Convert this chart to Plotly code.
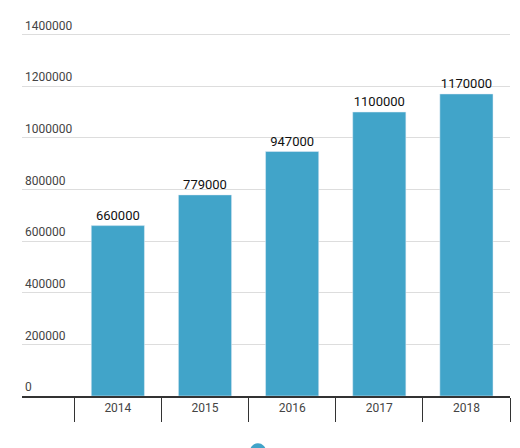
import plotly.graph_objects as go

years = ["2014", "2015", "2016", "2017", "2018"]
values = [660000, 779000, 947000, 1100000, 1170000]
y_ticks = [0, 200000, 400000, 600000, 800000, 1000000, 1200000, 1400000]

fig = go.Figure()
fig.add_trace(go.Bar(
    x=years,
    y=values,
    marker=dict(color="#41a4c9"),
    text=[str(v) for v in values],
    textposition="outside",
    textfont=dict(family="Roboto", size=13, color="#111"),
    cliponaxis=False,
    showlegend=False,
))

# page body has an 8px margin, so the figure is trimmed to fit the window
fig.update_layout(
    width=512, height=440,
    margin=dict(l=14, r=10, t=24, b=52, autoexpand=False),
    paper_bgcolor="white", plot_bgcolor="white",
    bargap=0.39,
    font=dict(family="Roboto", size=12, color="#444"),
    xaxis=dict(
        type="category",
        range=[-1.1, 4.5],
        tickson="boundaries",
        ticks="outside", ticklen=24, tickcolor="#333", tickwidth=1,
        showline=True, linecolor="#333", linewidth=2,
        showgrid=False,
        automargin=False,
        tickfont=dict(size=12, color="#444"),
    ),
    yaxis=dict(
        range=[0, 1410000],
        tickvals=y_ticks,
        ticktext=[str(v) for v in y_ticks],
        ticklabelposition="inside",
        ticklabeloverflow="allow",
        ticklabelshift=-9,
        ticklabelstandoff=0,
        gridcolor="#dddddd", gridwidth=1,
        zeroline=False,
        automargin=False,
        tickfont=dict(size=12, color="#444"),
    ),
    shapes=[dict(type="circle", xref="paper", yref="paper",
                 x0=0.467, x1=0.500, y0=-0.175, y1=-0.130,
                 fillcolor="#41a4c9", line=dict(width=0))],
)

fig.write_html("out.html")
